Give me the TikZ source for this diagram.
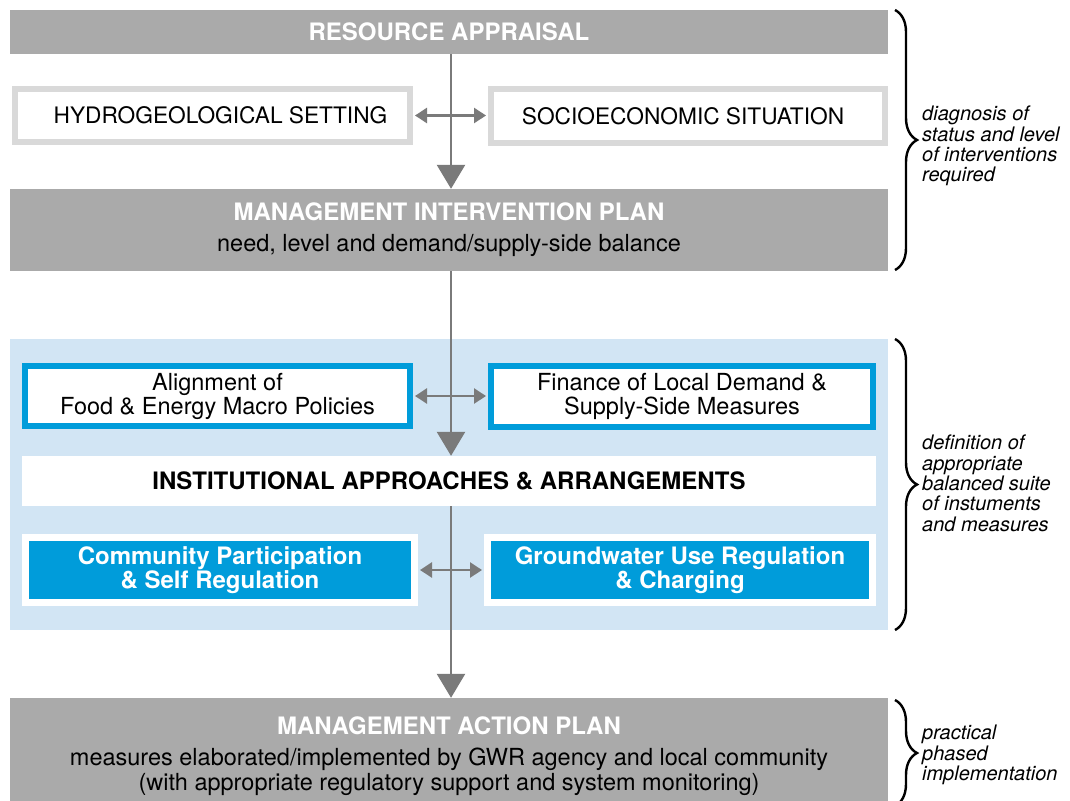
\documentclass[tikz,border=0pt]{standalone}
\usepackage{fontspec}
\setmainfont{TeX Gyre Heros}
\usetikzlibrary{arrows.meta,decorations.pathreplacing}
\definecolor{bargray}{HTML}{AAAAAA}
\definecolor{framegray}{HTML}{D9D9D9}
\definecolor{flowgray}{HTML}{7A7A7A}
\definecolor{paleblue}{HTML}{D2E5F4}
\definecolor{deepblue}{HTML}{009CDA}
\newcommand{\boxfont}{\fontsize{23.5}{24}\selectfont}
\newcommand{\capsfont}{\fontsize{22.7}{24}\selectfont}
\newcommand{\titlefont}{\fontsize{24}{24}\selectfont\bfseries}
\newcommand{\notefont}{\fontsize{20}{20.3}\selectfont\itshape}
\tikzstyle{graybar} = [fill=bargray, minimum width=878pt, inner sep=0pt, align=center, font=\boxfont]
\tikzstyle{grayframe} = [draw=framegray, fill=white, line width=6pt, inner sep=0pt, align=center, font=\capsfont]
\tikzstyle{blueframe} = [draw=deepblue, fill=white, line width=6pt, inner sep=0pt, align=center, font=\boxfont]
\tikzstyle{bluefill} = [draw=white, fill=deepblue, line width=7pt, inner sep=0pt, align=center, text=white, font=\titlefont]
\tikzstyle{mainflow} = [draw=flowgray, line width=2.7pt, -{Triangle[length=24pt,width=28pt]}]
\tikzstyle{sideflow} = [draw=flowgray, line width=2.7pt, {Triangle[length=12pt,width=15pt]}-{Triangle[length=12pt,width=15pt]}, shorten <=2pt, shorten >=2pt]
\tikzstyle{curly} = [decorate, decoration={brace, amplitude=22pt}, line width=2.4pt]
\tikzstyle{sidenote} = [anchor=north west, align=left, inner sep=0pt, font=\notefont]

\begin{document}
\begin{tikzpicture}[x=1pt, y=-1pt]
	\useasboundingbox[fill=white] (0,0) rectangle (1070,800);
	% blue panel behind the instruments
	\node[fill=paleblue, minimum width=878pt, minimum height=291pt, inner sep=0pt] (panel) at (449,484.5) {};
	
	\node[graybar, minimum height=44pt, text=white, font=\titlefont] (res) at (449,32) {RESOURCE APPRAISAL};
	\node[grayframe, minimum width=395pt, minimum height=53pt] (hydro) at (212.5,115.5) {\hspace*{16pt}HYDROGEOLOGICAL SETTING};
	\node[grayframe, minimum width=394pt, minimum height=54pt] (socio) at (688,116) {SOCIOECONOMIC SITUATION\hspace*{10pt}};
	\node[graybar, minimum height=82pt] (mip) at (449,230) {\textcolor{white}{\titlefont MANAGEMENT INTERVENTION PLAN}\\[7pt] need, level and demand/supply-side balance};
	
	\node[blueframe, minimum width=385pt, minimum height=60pt] (align) at (217.5,396) {Alignment of\\ Food \& Energy Macro Policies};
	\node[blueframe, minimum width=382pt, minimum height=61pt] (finance) at (682,396.5) {Finance of Local Demand \&\\ Supply-Side Measures};
	\node[fill=white, minimum width=854pt, minimum height=50pt, inner sep=0pt, font=\titlefont] (inst) at (449,481) {INSTITUTIONAL APPROACHES \& ARRANGEMENTS};
	\node[bluefill, minimum width=389pt, minimum height=65pt] (commun) at (220,570) {Community Participation\\ \& Self Regulation};
	\node[bluefill, minimum width=385pt, minimum height=65pt] (ground) at (680,570) {Groundwater Use Regulation\\ \& Charging};
	
	\node[graybar, minimum height=116pt, font=\fontsize{23.5}{24.5}\selectfont] (map) at (449,756) {\textcolor{white}{\titlefont MANAGEMENT ACTION PLAN}\\[7pt] measures elaborated/implemented by GWR agency and local community\\ (with appropriate regulatory support and system monitoring)};
	
	% flow
	\coordinate (axis) at (451,0);
	\draw[mainflow] (res.south -| axis) -- (mip.north -| axis);
	\draw[mainflow] (mip.south -| axis) -- (inst.north -| axis);
	\draw[mainflow] (inst.south -| axis) -- (map.north -| axis);
	\draw[sideflow] (hydro.east) -- (hydro.east -| socio.west);
	\draw[sideflow] (align.east) -- (align.east -| finance.west);
	\draw[sideflow] (commun.east) -- (commun.east -| ground.west);
	
	% braces and notes
	\coordinate (b1top) at (895,10);
	\coordinate (b1bot) at (895,270);
	\coordinate (b2top) at (895,339);
	\coordinate (b2bot) at (895,630);
	\coordinate (b3top) at (895,700);
	\coordinate (b3bot) at (895,806);
	\draw[curly] (b1top) -- (b1bot);
	\draw[curly] (b2top) -- (b2bot);
	\draw[curly] (b3top) -- (b3bot);
	\node[sidenote] (note1) at (922,106) {diagnosis of\\ status and level\\ of interventions\\ required};
	\node[sidenote] (note2) at (922,435) {definition of\\ appropriate\\ balanced suite\\ of instuments\\ and measures};
	\node[sidenote] (note3) at (922,725) {practical\\ phased\\ implementation};
\end{tikzpicture}
\end{document}
